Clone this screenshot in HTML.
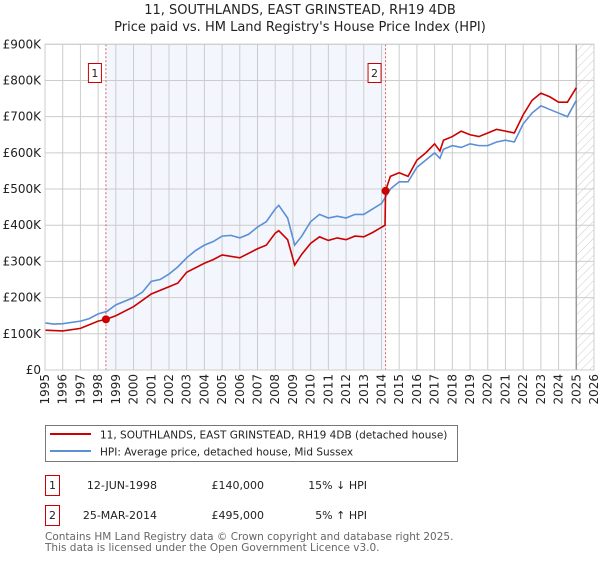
<!DOCTYPE html>
<html><head><meta charset="utf-8"><style>
body{margin:0;background:#fff;width:600px;height:560px;overflow:hidden;font-family:"DejaVu Sans","Liberation Sans",sans-serif;}
svg text{font-family:"DejaVu Sans","Liberation Sans",sans-serif;}
</style></head><body>
<svg id="chart" width="600" height="560" viewBox="0 0 600 560" xmlns="http://www.w3.org/2000/svg">
<defs><pattern id="hatch" width="6" height="6" patternUnits="userSpaceOnUse" patternTransform="rotate(45)"><line x1="0" y1="0" x2="0" y2="6" stroke="#ccc" stroke-width="1"/></pattern></defs>
<text x="300" y="14" text-anchor="middle" font-size="13" fill="#222">11, SOUTHLANDS, EAST GRINSTEAD, RH19 4DB</text>
<text x="300" y="31" text-anchor="middle" font-size="13" fill="#222">Price paid vs. HM Land Registry's House Price Index (HPI)</text>
<g id="plot"></g>
<g>
<rect x="45.5" y="425.5" width="412" height="36" fill="#fff" stroke="#777"/>
<line x1="50" y1="434" x2="91" y2="434" stroke="#cc0000" stroke-width="2"/>
<text x="100" y="438.5" font-size="10.5" fill="#222">11, SOUTHLANDS, EAST GRINSTEAD, RH19 4DB (detached house)</text>
<line x1="50" y1="451" x2="91" y2="451" stroke="#5b8fd6" stroke-width="2"/>
<text x="100" y="455.5" font-size="10.5" fill="#222">HPI: Average price, detached house, Mid Sussex</text>
</g>
<g font-size="11" fill="#222">
<rect x="45.5" y="475.5" width="14" height="20" fill="#fff" stroke="#cc0000"/>
<text x="52.5" y="489" text-anchor="middle">1</text>
<text x="157" y="489" text-anchor="end">12-JUN-1998</text>
<text x="264" y="489" text-anchor="end">£140,000</text>
<text x="367" y="489" text-anchor="end">15% ↓ HPI</text>
<rect x="45.5" y="505.5" width="14" height="20" fill="#fff" stroke="#cc0000"/>
<text x="52.5" y="519" text-anchor="middle">2</text>
<text x="157" y="519" text-anchor="end">25-MAR-2014</text>
<text x="264" y="519" text-anchor="end">£495,000</text>
<text x="367" y="519" text-anchor="end">5% ↑ HPI</text>
</g>
<text x="45" y="540" font-size="10.5" fill="#666">Contains HM Land Registry data © Crown copyright and database right 2025.</text>
<text x="45" y="551" font-size="10.5" fill="#666">This data is licensed under the Open Government Licence v3.0.</text>
</svg>
<script>
const yTicks=[0,100,200,300,400,500,600,700,800,900];
const yTickLabels=["£0","£100K","£200K","£300K","£400K","£500K","£600K","£700K","£800K","£900K"];
const xYears=[1995,1996,1997,1998,1999,2000,2001,2002,2003,2004,2005,2006,2007,2008,2009,2010,2011,2012,2013,2014,2015,2016,2017,2018,2019,2020,2021,2022,2023,2024,2025,2026];
const hpiT=[1995,1995.5,1996,1997,1997.5,1998,1998.5,1999,2000,2000.5,2001,2001.5,2002,2002.5,2003,2003.5,2004,2004.5,2005,2005.5,2006,2006.5,2007,2007.5,2008,2008.2,2008.7,2009.1,2009.5,2010,2010.5,2011,2011.5,2012,2012.5,2013,2013.5,2014,2014.5,2015,2015.5,2016,2016.5,2017,2017.3,2017.5,2018,2018.5,2019,2019.5,2020,2020.5,2021,2021.5,2022,2022.5,2023,2023.5,2024,2024.5,2025];
const hpiV=[130,127,128,135,142,155,162,180,200,215,245,250,265,285,310,330,345,355,370,372,365,375,395,410,445,455,420,345,370,410,430,420,425,420,430,430,445,460,500,520,520,560,580,600,585,610,620,615,625,620,620,630,635,630,680,710,730,720,710,700,745];
const priceT=[1995,1996,1997,1998,1998.44,1999,2000,2001,2002,2002.5,2003,2004,2004.5,2005,2006,2007,2007.5,2008,2008.2,2008.7,2009.1,2009.5,2010,2010.5,2011,2011.5,2012,2012.5,2013,2013.5,2014.2,2014.23,2014.5,2015,2015.5,2016,2016.5,2017,2017.3,2017.5,2018,2018.5,2019,2019.5,2020,2020.5,2021,2021.5,2022,2022.5,2023,2023.5,2024,2024.5,2025];
const priceV=[110,108,115,135,140,150,175,210,230,240,270,295,305,318,310,335,345,378,385,360,290,320,350,368,358,365,360,370,368,380,400,495,535,545,535,580,600,625,605,635,645,660,650,645,655,665,660,655,705,745,765,755,740,740,780];
const saleT=[1998.44,2014.23];
const saleV=[140,495];
const saleLabels=["1","2"];

const X0=45,X1=594,Y0=370,Y1=44.3;
const xs=t=>X0+(t-1995)/(2026-1995)*(X1-X0);
const ys=v=>Y0-v/900*(Y0-Y1);
const NS="http://www.w3.org/2000/svg";
const plot=document.getElementById('plot');
function mk(tag,attrs,parent){const e=document.createElementNS(NS,tag);for(const k in attrs)e.setAttribute(k,attrs[k]);(parent||plot).appendChild(e);return e;}

const shade=mk('rect',{x:xs(saleT[0]),y:Y1,width:xs(saleT[1])-xs(saleT[0]),height:Y0-Y1,fill:'#eef3fc',opacity:0.7});


const hatch=mk('rect',{x:xs(2025),y:Y1,width:X1-xs(2025),height:Y0-Y1,fill:'url(#hatch)'});



yTicks.forEach((v,i)=>{
  const g=mk('line',{x1:X0,x2:X1,y1:ys(v),y2:ys(v),stroke:'#ccc','stroke-width':1});
  
  
  const t=mk('text',{x:X0-4,y:ys(v)+4,'text-anchor':'end','font-size':12,fill:'#222'});
  t.textContent=yTickLabels[i];
  
  
});
xYears.forEach(yr=>{
  const g=mk('line',{x1:xs(yr),x2:xs(yr),y1:Y1,y2:Y0,stroke:'#ccc','stroke-width':1});
  
  
  const t=mk('text',{transform:`translate(${xs(yr)+4},${Y0+4}) rotate(-90)`,'text-anchor':'end','font-size':12,fill:'#222'});
  t.textContent=yr;
  
  
});
const endLine=mk('line',{x1:xs(2025),x2:xs(2025),y1:Y1,y2:Y0,stroke:'#999','stroke-width':1.5});



saleT.forEach((t,i)=>{
  const l=mk('line',{x1:xs(t),x2:xs(t),y1:Y1,y2:Y0,stroke:'#e06060','stroke-width':1,'stroke-dasharray':'2,2'});
  
  
});

const hp=mk('polyline',{points:hpiT.map((t,i)=>xs(t)+','+ys(hpiV[i])).join(' '),fill:'none',stroke:'#5b8fd6','stroke-width':1.6});


const pp=mk('polyline',{points:priceT.map((t,i)=>xs(t)+','+ys(priceV[i])).join(' '),fill:'none',stroke:'#cc0000','stroke-width':1.6});



saleT.forEach((t,i)=>{
  const c=mk('circle',{cx:xs(t),cy:ys(saleV[i]),r:4,fill:'#cc0000'});
  
  
  const bx=xs(t)-17;
  const r=mk('rect',{x:bx-0.5,y:63.5,width:13,height:19,fill:'#fff',stroke:'#cc0000'});
  
  
  const tx=mk('text',{x:bx+6,y:77,'text-anchor':'middle','font-size':11,fill:'#222'});
  tx.textContent=saleLabels[i];
  
  
});
const frame=mk('rect',{x:X0,y:Y1,width:X1-X0,height:Y0-Y1,fill:'none',stroke:'#ccc'});


</script>
</body></html>
